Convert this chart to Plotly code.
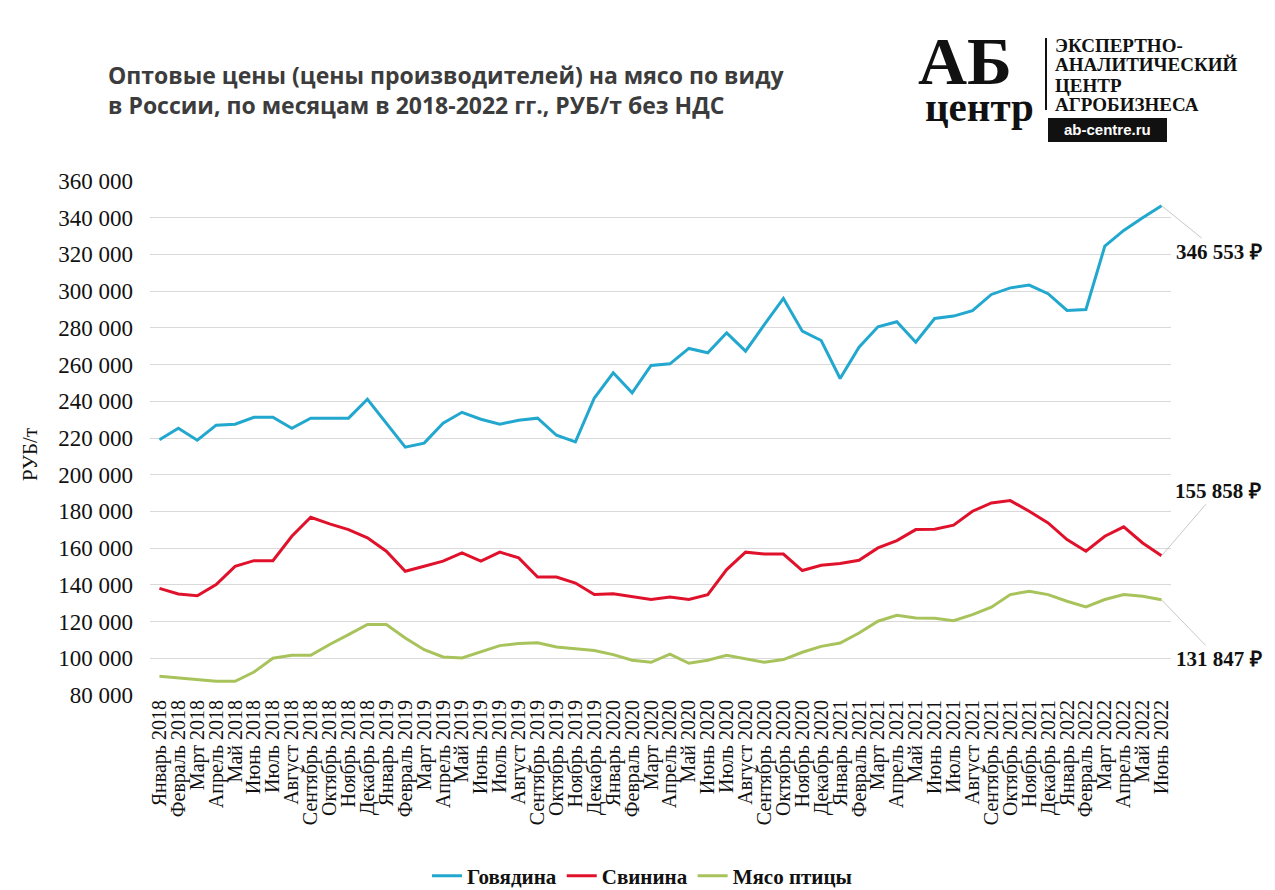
import plotly.graph_objects as go

months = ["Январь", "Февраль", "Март", "Апрель", "Май", "Июнь", "Июль", "Август",
          "Сентябрь", "Октябрь", "Ноябрь", "Декабрь"]
years = [2018, 2019, 2020, 2021, 2022]
labels = [f"{m} {y}" for y in years for m in months][:54]

beef = [219000, 225300, 218800, 227000, 227500, 231300, 231300, 225300, 230800, 230800,
        230800, 241100, 228000, 215000, 217200, 228000, 234000, 230200, 227500, 229700,
        230800, 221500, 217900, 241800, 255500, 244600, 259500, 260400, 268800, 266400,
        277300, 267300, 281900, 296000, 278200, 273100, 252400, 269500, 280600, 283300,
        272200, 285100, 286400, 289400, 298200, 301800, 303300, 298600, 289500, 290000,
        324500, 333100, 340000, 346553]
pork = [138100, 135000, 134100, 140200, 150100, 153200, 153200, 166500, 176800, 173200,
        170100, 165600, 158300, 147400, 150100, 152900, 157400, 152900, 157800, 154700,
        144300, 144300, 141000, 134700, 135200, 133400, 132000, 133400, 132000, 134700,
        148300, 157800, 156800, 156800, 147800, 150700, 151600, 153400, 160100, 164100,
        170100, 170300, 172500, 180100, 184600, 185900, 180100, 173700, 164700, 158300,
        166500, 171600, 162800, 155858]
poultry = [90200, 89400, 88400, 87500, 87500, 92500, 100000, 101600, 101600, 107500,
           112900, 118400, 118400, 111100, 104700, 100700, 100200, 103400, 106900, 108000,
           108500, 106200, 105100, 104200, 102000, 98900, 97800, 102300, 97300, 98900,
           101600, 99600, 97800, 99300, 103300, 106500, 108300, 113800, 120200, 123400,
           122000, 121800, 120500, 123800, 127800, 134700, 136500, 134700, 131100, 128000,
           132000, 134700, 133800, 131847]

series_names = ["Говядина", "Свинина", "Мясо птицы"]
series_colors = ["#22A7CF", "#E0122B", "#A8C35C"]
end_labels = ["346 553 ₽", "155 858 ₽", "131 847 ₽"]

# page is offset by the 8px body margin
OFF = 8
PAGE_W, PAGE_H = 1275, 890
W, H = PAGE_W - OFF, PAGE_H - OFF
P_LEFT, P_RIGHT, P_TOP, P_BOTTOM = 150, 1171, 181, 695   # plot edges in page pixels
L, R, T, B = P_LEFT - OFF, W - (P_RIGHT - OFF), P_TOP - OFF, H - (P_BOTTOM - OFF)
PW, PH = P_RIGHT - P_LEFT, P_BOTTOM - P_TOP


def px(X):
    return (X - P_LEFT) / PW


def py(Y):
    return (P_BOTTOM - Y) / PH


xs = list(range(len(labels)))
fig = go.Figure()
for name, vals, col in zip(series_names, [beef, pork, poultry], series_colors):
    fig.add_trace(go.Scatter(x=xs, y=vals, name=f"<b>{name}</b>", mode="lines",
                             line=dict(color=col, width=3)))

serif = "Liberation Serif, Times New Roman, serif"
ink = "#111111"

annotations = []
offsets = [(57, 46), (56, -65), (57, 59)]
for vals, txt, (ax, ay) in zip([beef, pork, poultry], end_labels, offsets):
    annotations.append(dict(x=xs[-1], y=vals[-1], xref="x", yref="y", text=f"<b>{txt}</b>",
                            showarrow=True, arrowhead=0, arrowwidth=1, arrowcolor="#c8c8c8",
                            ax=ax, ay=ay, font=dict(family=serif, size=21, color=ink)))


def note(X, Y, text, font, xanchor="center", yanchor="middle", **kw):
    annotations.append(dict(x=px(X), y=py(Y), xref="paper", yref="paper", text=text,
                            xanchor=xanchor, yanchor=yanchor, showarrow=False,
                            font=font, **kw))


note(30, 455, "РУБ/т", dict(family=serif, size=21, color=ink), textangle=-90)

title_font = dict(family="Open Sans, sans-serif", size=23, color="#3c3c3c")
note(106, 75, "<b>Оптовые цены (цены производителей) на мясо по виду</b>", title_font,
     xanchor="left")
note(106, 105, "<b>в России, по месяцам в 2018-2022 гг., РУБ/т без НДС</b>", title_font,
     xanchor="left")

note(965, 61, "<b>АБ</b>", dict(family=serif, size=68, color=ink), yanchor="middle")
note(979, 82, "<b>центр</b>", dict(family=serif, size=41, color=ink), yanchor="top")
for t, yy in zip(["ЭКСПЕРТНО-", "АНАЛИТИЧЕСКИЙ", "ЦЕНТР", "АГРОБИЗНЕСА"],
                 [45, 65, 85, 104]):
    note(1053, yy, f"<b>{t}</b>", dict(family=serif, size=19, color=ink), xanchor="left")
note(1107, 130, "<b>ab-centre.ru</b>",
     dict(family="Liberation Sans, Arial, sans-serif", size=15, color="white"))

shapes = [
    dict(type="line", xref="paper", yref="paper", x0=px(1046), x1=px(1046), y0=py(38),
         y1=py(110), line=dict(color=ink, width=2)),
    dict(type="rect", xref="paper", yref="paper", x0=px(1048), x1=px(1167), y0=py(118),
         y1=py(142), fillcolor=ink, line=dict(width=0)),
]

fig.update_layout(
    width=W, height=H,
    margin=dict(l=L, r=R, t=T, b=B, autoexpand=False),
    paper_bgcolor="white", plot_bgcolor="white",
    separators=", ",
    showlegend=True,
    legend=dict(orientation="h", x=px(642), xanchor="center", y=py(876), yanchor="middle",
                font=dict(family=serif, size=21, color=ink),
                itemwidth=30, tracegroupgap=0),
    xaxis=dict(range=[-0.5, len(labels) - 0.5], tickmode="array", tickvals=xs,
               ticktext=labels, tickangle=-90, showgrid=False, zeroline=False,
               showline=False, ticks="", automargin=False,
               tickfont=dict(family=serif, size=20, color=ink)),
    yaxis=dict(range=[80000, 360000], dtick=20000, tick0=80000, tickformat=",d",
               showgrid=True, gridcolor="#d9d9d9", gridwidth=1, zeroline=False,
               showline=False, ticks="", ticklabelstandoff=16, automargin=False,
               tickfont=dict(family=serif, size=23, color=ink)),
    annotations=annotations,
    shapes=shapes,
)

fig.write_html("out.html")
